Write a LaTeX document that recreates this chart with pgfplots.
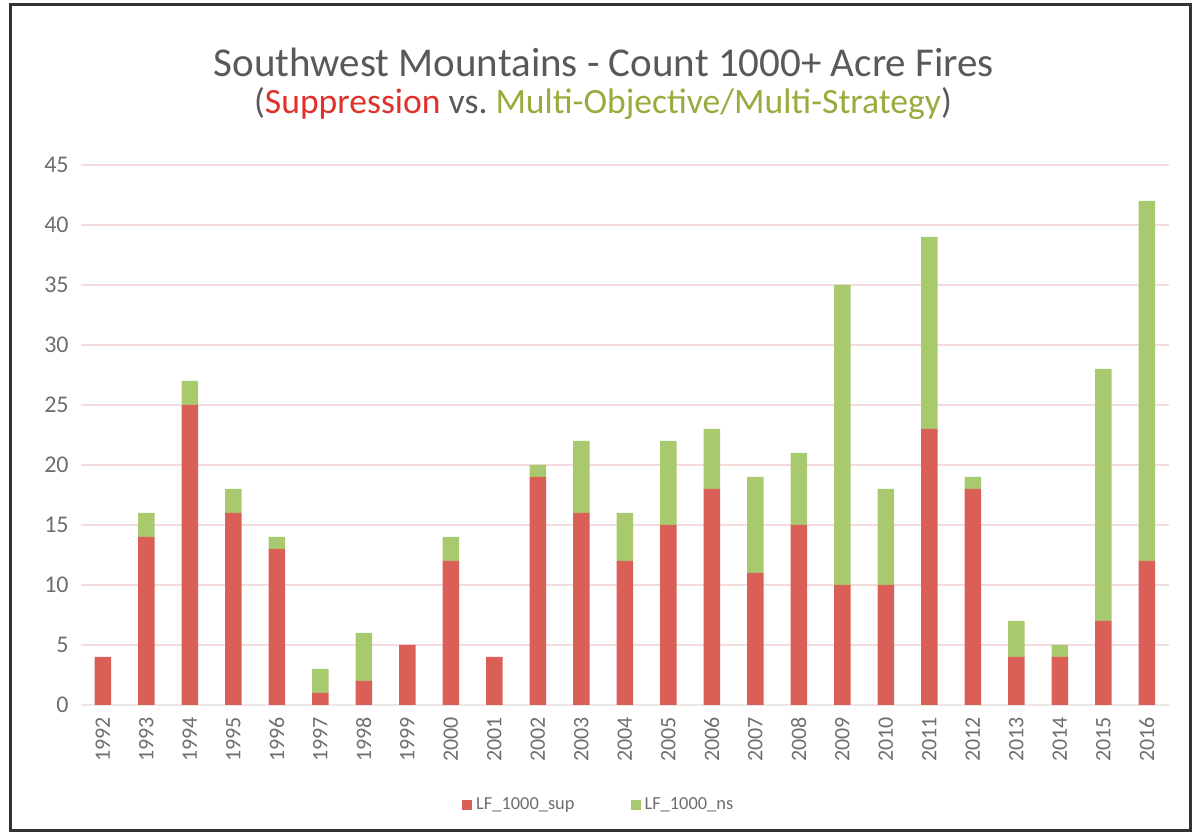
\documentclass[border=0pt]{standalone}
\usepackage{pgfplots}
\pgfplotsset{compat=1.18}
\usepackage{fontspec}
\setmainfont{Carlito}
\definecolor{supred}{HTML}{D95F57}
\definecolor{nsgreen}{HTML}{A9C96E}
\definecolor{titlegray}{HTML}{595959}
\definecolor{tickgray}{HTML}{6E6E6E}
\definecolor{gridpink}{HTML}{F5DCDC}
\definecolor{subred}{HTML}{E0302A}
\definecolor{subgreen}{HTML}{9AAA3C}
\begin{document}
\begin{tikzpicture}
\begin{scope}[x=0.5pt,y=0.5pt,shift={(-40.5pt,-64.5pt)}]
\useasboundingbox (0,0) rectangle (1194,834);
\draw[line width=1.5pt, black!80] (11,3) rectangle (1190,829);
\node[text=titlegray, font=\fontsize{20.5}{24}\selectfont] at (604,834-62) {Southwest Mountains - Count 1000+ Acre Fires};
\node[text=titlegray, font=\fontsize{17.8}{21}\selectfont] at (603,834-104) {(\textcolor{subred}{Suppression} vs.\ \textcolor{subgreen}{Multi-Objective/Multi-Strategy})};
\end{scope}
\begin{axis}[
  scale only axis, width=543.75pt, height=270pt,
  ybar stacked, bar width=8.25pt,
  xmin=-0.5, xmax=24.5, ymin=0, ymax=45,
  xtick={0,...,24},
  xticklabels={1992,1993,1994,1995,1996,1997,1998,1999,2000,2001,2002,2003,2004,2005,2006,2007,2008,2009,2010,2011,2012,2013,2014,2015,2016},
  ytick={0,5,...,45},
  xticklabel style={rotate=90, anchor=east, font=\fontsize{11}{13}\selectfont, text=tickgray, inner sep=2pt},
  every x tick label/.append style={xshift=-4pt},
  yticklabel style={font=\fontsize{12}{14}\selectfont, text=tickgray, xshift=-4pt, inner sep=2pt},
  /pgf/number format/assume math mode=true,
  major tick length=0pt,
  ymajorgrids, grid style={gridpink, line width=0.6pt},
  axis lines*=left,
  y axis line style={draw=none},
  x axis line style={draw=gridpink!70!gray!40, line width=0.6pt},
  legend style={at={(0.477,-0.185)}, anchor=center, legend columns=2, draw=none, fill=none,
    font=\fontsize{9.2}{11}\selectfont, text=tickgray,
    /tikz/every even column/.append style={column sep=26pt}},
  legend image code/.code={\fill[#1] (0pt,-2.5pt) rectangle (5pt,2.5pt);},
]
\addplot[fill=supred, draw=none] coordinates {
(0,4) (1,14) (2,25) (3,16) (4,13) (5,1) (6,2) (7,5) (8,12) (9,4)
(10,19) (11,16) (12,12) (13,15) (14,18) (15,11) (16,15) (17,10) (18,10) (19,23)
(20,18) (21,4) (22,4) (23,7) (24,12)};
\addlegendentry{LF\_1000\_sup}
\addplot[fill=nsgreen, draw=none] coordinates {
(0,0) (1,2) (2,2) (3,2) (4,1) (5,2) (6,4) (7,0) (8,2) (9,0)
(10,1) (11,6) (12,4) (13,7) (14,5) (15,8) (16,6) (17,25) (18,8) (19,16)
(20,1) (21,3) (22,1) (23,21) (24,30)};
\addlegendentry{LF\_1000\_ns}
\end{axis}
\end{tikzpicture}
\end{document}
